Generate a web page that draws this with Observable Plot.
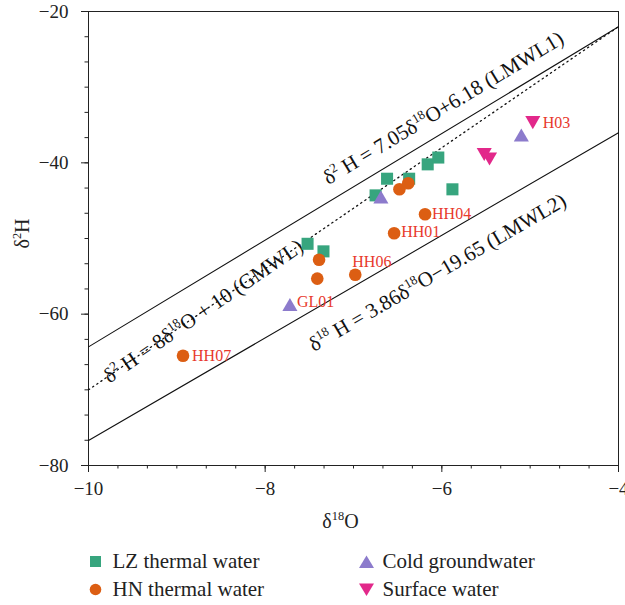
<!DOCTYPE html>
<html><head><meta charset="utf-8">
<script src="https://cdn.jsdelivr.net/npm/d3@7"></script>
<script src="https://cdn.jsdelivr.net/npm/@observablehq/plot@0.6"></script>
<style>
body{margin:0;background:#fff;}
#wrap{position:relative;width:625px;height:605px;font-family:"Liberation Serif","Times New Roman",serif;color:#222;}
.leg{position:absolute;display:flex;align-items:center;font-size:21px;line-height:1;white-space:nowrap;font-family:"Liberation Serif","Times New Roman",serif;}
</style></head><body><div id="wrap"></div>
<script>
// ---- data ----
const seriesNames = ["LZ thermal water","HN thermal water","Cold groundwater","Surface water"];
const lzX = [-7.52,-7.34,-6.75,-6.62,-6.37,-6.16,-6.04,-5.88];
const lzY = [-50.7,-51.7,-44.3,-42.1,-42.1,-40.2,-39.3,-43.5];
const hnX = [-8.93,-7.41,-7.39,-6.98,-6.54,-6.19,-6.48,-6.38];
const hnY = [-65.5,-55.3,-52.8,-54.8,-49.3,-46.8,-43.5,-42.7];
const hnLabel = ["HH07","","","HH06","HH01","HH04","",""];
const cgX = [-7.72,-6.69,-5.10];
const cgY = [-59.0,-44.8,-36.6];
const cgLabel = ["GL01","",""];
const swX = [-5.52,-5.46,-4.97];
const swY = [-38.6,-39.2,-34.4];
const swLabel = ["","","H03"];
const lineNames = ["LMWL1","GMWL","LMWL2"];
const lineSlope = [7.05, 8, 6.78];
const lineIntercept = [6.18, 10, -8.9];
const lineLabels = ["δ^{2} H = 7.05δ^{18}O+6.18 (LMWL1)","δ^{2} H = 8δ^{18}O + 10 (GMWL)","δ^{18} H = 3.86δ^{18}O−19.65 (LMWL2)"];
const xTicks = [-10,-8,-6,-4];
const yTicks = [-80,-60,-40,-20];
const xDomain = [-10,-4];
const yDomain = [-80,-20];

// ---- layout / style ----
const W = 625, H = 540, mL = 88, mR = 7, mT = 11, mB = 75;
const colors = ["#37a57e","#dc5e13","#8c7bcc","#e2288a"];
const labelColor = "#e8392c";
const FONT = "'Liberation Serif', 'Times New Roman', serif";
const labelAnchorX = [-5.86, -8.70, -6.22];
const labelOffsetPx = [21, 0, -30];
const pointLabelOffset = {HH07:[9,0], HH06:[-3,-13], HH01:[7,-1], HH04:[7,0], GL01:[7,-5], H03:[10,2]};

const pxX = (W - mL - mR) / (xDomain[1] - xDomain[0]);
const pxY = (H - mT - mB) / (yDomain[1] - yDomain[0]);

const triDown = {draw(ctx, size){ const y = Math.sqrt(size/(3*Math.sqrt(3))); ctx.moveTo(0, 2*y); ctx.lineTo(-Math.sqrt(3)*y, -y); ctx.lineTo(Math.sqrt(3)*y, -y); ctx.closePath(); }};

const mk = (xs, ys, labels, s) => xs.map((x,i)=>({x, y: ys[i], label: labels ? labels[i] : "", series: s}));
const lz = mk(lzX, lzY, null, seriesNames[0]);
const hn = mk(hnX, hnY, hnLabel, seriesNames[1]);
const cg = mk(cgX, cgY, cgLabel, seriesNames[2]);
const sw = mk(swX, swY, swLabel, seriesNames[3]);
const labeled = [...hn, ...cg, ...sw].filter(d => d.label);

const lineData = lineNames.flatMap((n,i) => xDomain.map(x => ({name:n, x, y: lineSlope[i]*x + lineIntercept[i]})));
const lineLabelData = lineNames.map((n,i) => {
  const a = Math.atan(lineSlope[i]*pxY/pxX);
  const d = labelOffsetPx[i];
  const x0 = labelAnchorX[i], y0 = lineSlope[i]*x0 + lineIntercept[i];
  return {text: lineLabels[i], x: x0 - d*Math.sin(a)/pxX, y: y0 + d*Math.cos(a)/pxY, rot: -a*180/Math.PI};
});

const minorX = d3.range(0,19).map(i => xDomain[0] + i/3);
const minorY = d3.range(0,19).map(i => yDomain[0] + i*10/3);
const fmt = d3.format("d");

const marks = [
  Plot.frame({stroke:"#222", strokeWidth:1}),
  Plot.axisX({ticks: minorX, tickSize: 3.5, tickFormat: () => "", label: null, stroke:"#222"}),
  Plot.axisY({ticks: minorY, tickSize: 3.5, tickFormat: () => "", label: null, stroke:"#222"}),
  Plot.axisX({ticks: xTicks, tickSize: 7, tickPadding: 9, tickFormat: fmt, fontSize: 19, label: null, stroke:"#222", fill:"#222"}),
  Plot.axisY({ticks: yTicks, tickSize: 7, tickPadding: 13, tickFormat: fmt, fontSize: 19, label: null, stroke:"#222", fill:"#222"}),
  Plot.line(lineData.filter(d => d.name !== "GMWL"), {x:"x", y:"y", z:"name", stroke:"#111", strokeWidth:1.1}),
  Plot.line(lineData.filter(d => d.name === "GMWL"), {x:"x", y:"y", stroke:"#111", strokeWidth:1.3, strokeDasharray:"1.3,3.7"}),
  Plot.text(lineLabelData, {x:"x", y:"y", text:"text", rotate:(d)=>d.rot, fontSize:21, fill:"#111", textAnchor:"middle", lineAnchor:"middle"}),
  Plot.dot(lz, {x:"x", y:"y", symbol:"square", r:6.8, fill:colors[0]}),
  Plot.dot(hn, {x:"x", y:"y", symbol:"circle", r:6.3, fill:colors[1]}),
  Plot.dot(cg, {x:"x", y:"y", symbol:"triangle", r:5.6, fill:colors[2]}),
  Plot.dot(sw, {x:"x", y:"y", symbol:triDown, r:5.6, fill:colors[3]}),
  ...labeled.map(d => Plot.text([d], {x:"x", y:"y", text:"label", textAnchor:"start", lineAnchor:"middle", fontSize:16, fill:labelColor, dx: pointLabelOffset[d.label][0], dy: pointLabelOffset[d.label][1]})),
  Plot.text(["δ^{18}O"], {text:d=>d, frameAnchor:"bottom", textAnchor:"middle", lineAnchor:"middle", dy:56, dx:-13, fontSize:20, fill:"#222"}),
  Plot.text(["δ^{2}H"], {text:d=>d, frameAnchor:"left", textAnchor:"middle", lineAnchor:"middle", dx:-66, dy:-5, rotate:-90, fontSize:20, fill:"#222"})
];

const chart = Plot.plot({
  width: W, height: H,
  marginLeft: mL, marginRight: mR, marginTop: mT, marginBottom: mB,
  x: {domain: xDomain},
  y: {domain: yDomain},
  style: {fontFamily: FONT, background: "#fff", color:"#222"},
  marks
});

const wrap = document.getElementById("wrap");
wrap.appendChild(chart);

// superscripts
function supify(el){
  const s = el.textContent;
  if (!s.includes("^{")) return;
  const fs = parseFloat(getComputedStyle(el).fontSize) || 16;
  const parts = s.split(/(\^\{[^}]*\})/);
  while (el.firstChild) el.removeChild(el.firstChild);
  let up = false;
  for (const p of parts) {
    if (!p) continue;
    const t = document.createElementNS("http://www.w3.org/2000/svg","tspan");
    if (p.startsWith("^{")) {
      t.textContent = p.slice(2,-1);
      t.setAttribute("font-size", (fs*0.62).toFixed(2)+"px");
      t.setAttribute("dy", (-fs*0.38).toFixed(2));
      up = true;
    } else {
      t.textContent = p;
      if (up) { t.setAttribute("dy", (fs*0.38).toFixed(2)); up = false; }
    }
    el.appendChild(t);
  }
}
chart.querySelectorAll("text").forEach(supify);

// legend
const legendPos = [[95,561],[95,589],[366,561],[366,589]];
const legendShapes = [
  (c) => `<rect x="2" y="2" width="11" height="11" fill="${c}"/>`,
  (c) => `<circle cx="7.5" cy="7.5" r="5.8" fill="${c}"/>`,
  (c) => `<path d="M7.5,1.5 L15,14 L0,14 Z" fill="${c}"/>`,
  (c) => `<path d="M0,1.5 L15,1.5 L7.5,14 Z" fill="${c}"/>`
];
seriesNames.forEach((name,i) => {
  const div = document.createElement("div");
  div.className = "leg";
  div.style.left = (legendPos[i][0] - 7.5) + "px";
  div.style.top = (legendPos[i][1] - 11) + "px";
  div.style.height = "22px";
  div.innerHTML = `<svg width="15" height="15" viewBox="0 0 15 15" style="margin-right:${i<2?10:9}px">${legendShapes[i](colors[i])}</svg><span style="font-family:'Liberation Serif','Times New Roman',serif">${name}</span>`;
  wrap.appendChild(div);
});
</script></body></html>
